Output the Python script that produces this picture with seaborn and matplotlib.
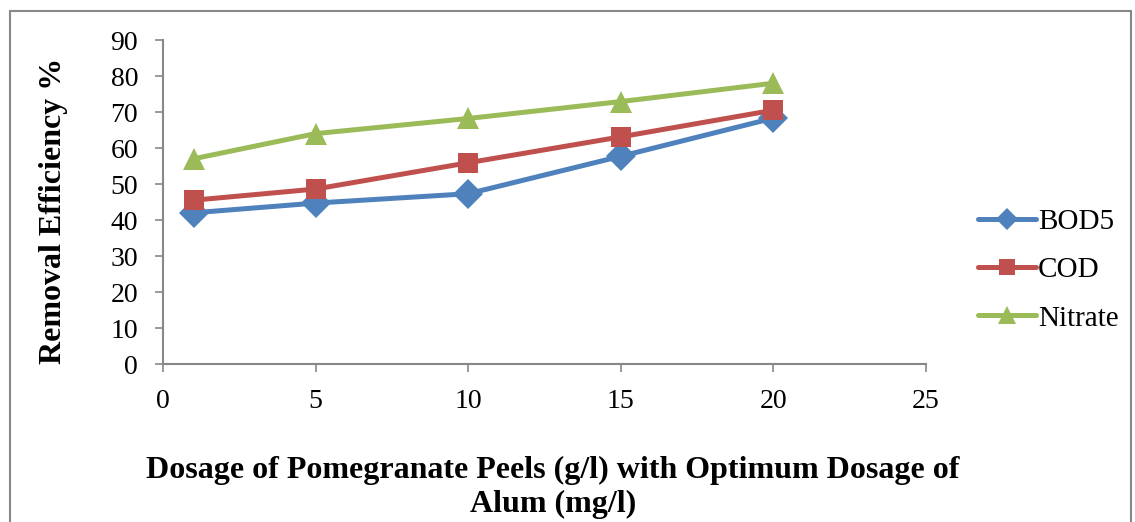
import matplotlib
matplotlib.use("Agg")
import matplotlib.pyplot as plt
import seaborn as sns
import pandas as pd
from matplotlib.patches import Rectangle

dosage = [1, 5, 10, 15, 20]
bod5 = [42.0, 44.7, 47.3, 57.7, 68.3]
cod = [45.5, 48.6, 55.9, 63.1, 70.5]
nitrate = [57.0, 64.0, 68.2, 72.9, 78.0]
series_names = ["BOD5", "COD", "Nitrate"]
x_ticks = [0, 5, 10, 15, 20, 25]
y_ticks = [0, 10, 20, 30, 40, 50, 60, 70, 80, 90]

df = pd.DataFrame({
    "x": dosage * 3,
    "y": bod5 + cod + nitrate,
    "series": [s for s in series_names for _ in dosage],
})

sns.set_theme(style="white")
plt.rcParams['font.family'] = ['Liberation Serif', 'DejaVu Serif']
plt.rcParams['text.color'] = 'black'
plt.rcParams['axes.labelcolor'] = 'black'

W, H = 1135, 522
fig = plt.figure(figsize=(W / 100, H / 100), dpi=100)
ax = fig.add_axes([163 / W, 1 - 364 / H, (926 - 163) / W, (364 - 40) / H])

palette = {"BOD5": "#4F81BD", "COD": "#C0504D", "Nitrate": "#9BBB59"}
markers = {"BOD5": "D", "COD": "s", "Nitrate": "^"}
sns.lineplot(data=df, x="x", y="y", hue="series", style="series",
             palette=palette, markers=markers, dashes=False,
             linewidth=3.6, markersize=13, markeredgewidth=0, ax=ax)

plot_sizes = {"D": 15, "s": 14, "^": 15.5}
for ln in ax.lines:
    m = ln.get_marker()
    if m in plot_sizes:
        ln.set_markersize(plot_sizes[m])
        ln.set_solid_capstyle('round')

ax.set_xlim(0, 25)
ax.set_ylim(0, 90)
ax.set_xticks(x_ticks)
ax.set_yticks(y_ticks)
ax.tick_params(axis='both', labelsize=20, labelcolor='black', length=6, width=1.2,
               direction='out', color='#888888', left=True, bottom=True)
ax.tick_params(axis='x', pad=12)
ax.tick_params(axis='y', pad=12)
for side in ["top", "right"]:
    ax.spines[side].set_visible(False)
for side in ["left", "bottom"]:
    ax.spines[side].set_color('#888888')
    ax.spines[side].set_linewidth(1.5)

ax.set_xlabel("Dosage of Pomegranate Peels (g/l) with Optimum Dosage of\nAlum (mg/l)",
              fontsize=23, fontweight='bold', linespacing=1.2, color='black')
ax.xaxis.set_label_coords((553 - 163) / 763, (364 - 456) / 324)
ax.set_ylabel("Removal Efficiency %", fontsize=23, fontweight='bold', color='black')
ax.yaxis.set_label_coords((68 - 163) / 763, (364 - 211) / 324)

leg = ax.legend(loc='center left', bbox_to_anchor=(978 / W, 1 - 270 / H),
                bbox_transform=fig.transFigure, frameon=False,
                fontsize=21, handlelength=2.0, labelspacing=0.75, handletextpad=0.05,
                borderpad=0, borderaxespad=0)
leg_sizes = {"D": 11, "s": 12, "^": 13}
for h in leg.legend_handles:
    m = h.get_marker()
    if m in leg_sizes:
        h.set_markersize(leg_sizes[m])
    h.set_solid_capstyle('round')
for t in leg.get_texts():
    t.set_color('black')

fig.patches.append(Rectangle((10 / W, -0.05), (1131 - 10) / W, 1.05 - 11 / H,
                             transform=fig.transFigure,
                             fill=False, edgecolor='#888888', linewidth=1.5))

fig.savefig("out.png", dpi=100)
